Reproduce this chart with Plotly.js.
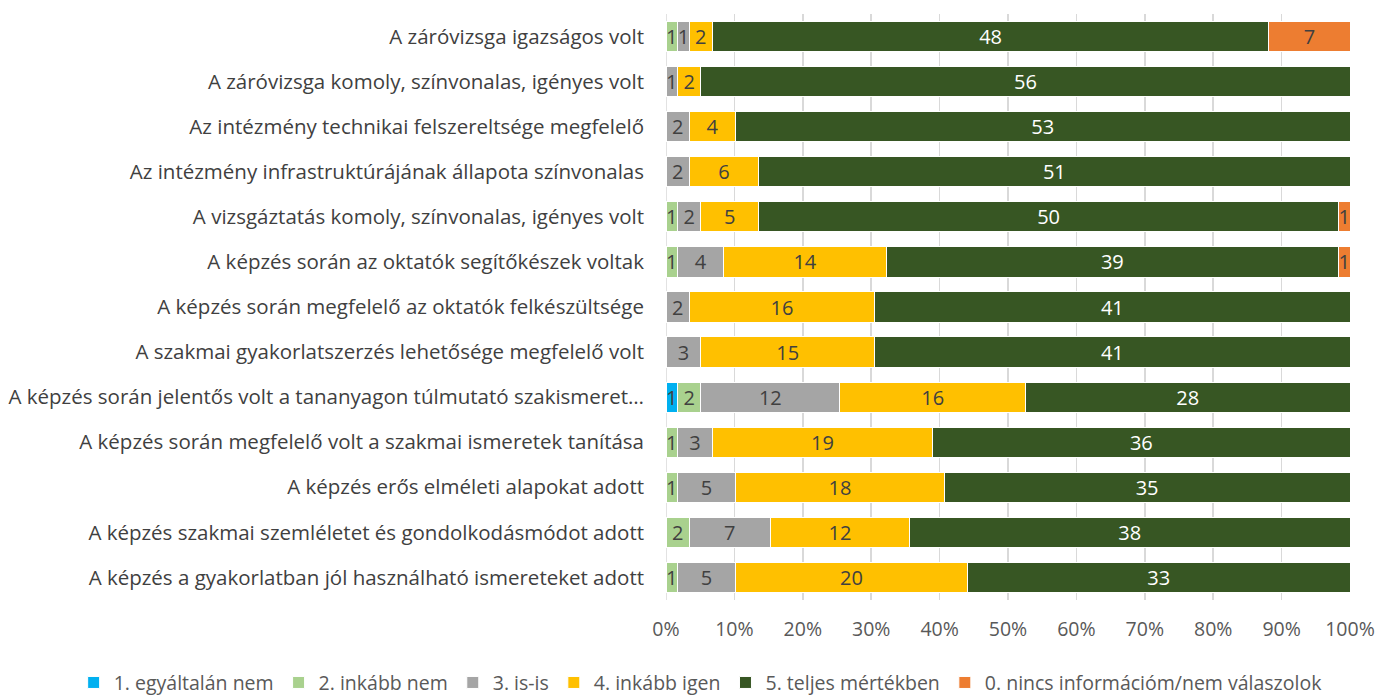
<!DOCTYPE html>
<html><head><meta charset="utf-8">
<script src="https://cdn.plot.ly/plotly-3.0.1.min.js"></script>
<style>html,body{margin:0;padding:0;background:#fff}#chart{width:1380px;height:695px}</style>
</head><body><div id="chart"></div>
<script>
var categories = [
  "A záróvizsga igazságos volt",
  "A záróvizsga komoly, színvonalas, igényes volt",
  "Az intézmény technikai felszereltsége megfelelő",
  "Az intézmény infrastruktúrájának állapota színvonalas",
  "A vizsgáztatás komoly, színvonalas, igényes volt",
  "A képzés során az oktatók segítőkészek voltak",
  "A képzés során megfelelő az oktatók felkészültsége",
  "A szakmai gyakorlatszerzés lehetősége megfelelő volt",
  "A képzés során jelentős volt a tananyagon túlmutató szakismeret…",
  "A képzés során megfelelő volt a szakmai ismeretek tanítása",
  "A képzés erős elméleti alapokat adott",
  "A képzés szakmai szemléletet és gondolkodásmódot adott",
  "A képzés a gyakorlatban jól használható ismereteket adott"
];
var seriesNames = ["1. egyáltalán nem","2. inkább nem","3. is-is","4. inkább igen","5. teljes mértékben","0. nincs információm/nem válaszolok"];
var s1 = [0,0,0,0,0,0,0,0,1,0,0,0,0];
var s2 = [1,0,0,0,1,1,0,0,2,1,1,2,1];
var s3 = [1,1,2,2,2,4,2,3,12,3,5,7,5];
var s4 = [2,2,4,6,5,14,16,15,16,19,18,12,20];
var s5 = [48,56,53,51,50,39,41,41,28,36,35,38,33];
var s0 = [7,0,0,0,1,1,0,0,0,0,0,0,0];
var tickVals = [0,10,20,30,40,50,60,70,80,90,100];
var tickText = ["0%","10%","20%","30%","40%","50%","60%","70%","80%","90%","100%"];

var seriesValues = [s1,s2,s3,s4,s5,s0];
var colors = ["#00B0F0","#A9D18E","#A5A5A5","#FFC000","#375623","#ED7D31"];
var textColors = ["#404040","#404040","#404040","#404040","#FFFFFF","#404040"];
var FONT = "'Open Sans', sans-serif";

var traces = seriesValues.map(function(vals,i){
  return {
    type:'bar', orientation:'h', name:seriesNames[i],
    y:categories, x:vals,
    text: vals.map(function(v){return v>0?String(v):'';}),
    texttemplate:'%{text}', textposition:'inside', insidetextanchor:'middle',
    textangle:0, constraintext:'none',
    textfont:{color:textColors[i], size:20, family:FONT},
    marker:{color:colors[i], line:{color:'#FFFFFF', width:1}},
    hoverinfo:'skip'
  };
});

var layout = {
  width:1380, height:695,
  barmode:'stack', barnorm:'percent', bargap:0.33,
  margin:{l:666, r:30, t:14, b:95, autoexpand:false},
  paper_bgcolor:'#fff', plot_bgcolor:'#fff',
  font:{family:FONT, size:20, color:'#404040'},
  xaxis:{range:[0,100], tickvals:tickVals, ticktext:tickText, showgrid:true,
         gridcolor:'#D9D9D9', gridwidth:1.5, zeroline:false, showline:false,
         ticks:'', tickfont:{size:19.5, color:'#595959'}, ticklabelstandoff:15, fixedrange:true},
  yaxis:{autorange:'reversed', ticks:'', showgrid:false, showline:false,
         tickfont:{size:20.5, color:'#404040'}, ticklabelstandoff:21},
  showlegend:true,
  legend:{orientation:'h', x:-0.866, xanchor:'left', xref:'paper', y:-0.108, yanchor:'top', yref:'paper',
          font:{size:19.5, color:'#595959'}, itemwidth:30, traceorder:'normal', tracegroupgap:0},
  shapes:[{type:'line', xref:'x', yref:'paper', x0:0, x1:0, y0:0, y1:1, line:{color:'#D9D9D9', width:1.5}, layer:'below'}]
};
Plotly.newPlot('chart', traces, layout, {displayModeBar:false, staticPlot:true});
</script></body></html>
